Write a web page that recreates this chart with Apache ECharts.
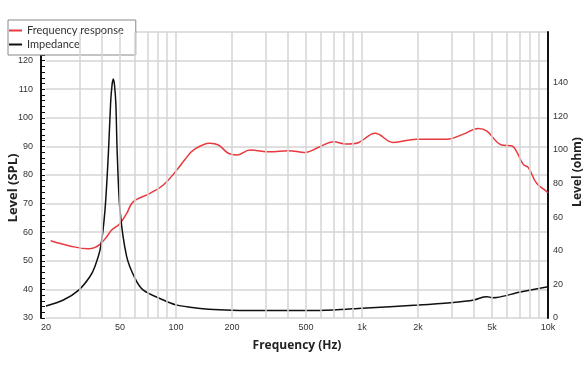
<!DOCTYPE html>
<html>
<head>
<meta charset="utf-8">
<script src="https://cdn.jsdelivr.net/npm/echarts@6/dist/echarts.min.js"></script>
<style>html,body{margin:0;padding:0;background:#fff}#c{width:588px;height:372px}</style>
</head>
<body>
<div id="c"></div>
<script>
// Frequency response (SPL, left axis)
var splFreq = [21.2, 26.9, 33.8, 36.5, 39.3, 42.5, 45.1, 49.7, 54.3, 59, 72.5, 85.5, 100.9, 112, 124, 152, 169, 191, 212, 250, 320, 402, 493, 594, 701, 828, 955, 1175, 1473, 1968, 2853, 3506, 4221, 4680, 5637, 6380, 6790, 7365, 7838, 8690, 9840, 10000];
var splValues = [57.0, 55.2, 54.2, 54.6, 55.9, 58.5, 60.8, 62.9, 66.6, 70.7, 73.6, 76.5, 81.7, 85.5, 88.7, 91.1, 90.5, 87.6, 87.0, 88.7, 88.1, 88.5, 87.9, 89.9, 91.6, 90.8, 91.3, 94.6, 91.4, 92.5, 92.5, 94.3, 96.3, 95.4, 90.5, 90.2, 88.1, 83.7, 82.6, 77.1, 74.2, 73.8];
// Impedance (ohm, right axis)
var impFreq = [20, 24.8, 30, 34.4, 36.6, 39.3, 41.5, 43.3, 44.5, 45.3, 46, 46.7, 47.5, 48.3, 50, 54.3, 60.2, 66.7, 85.5, 100, 119, 150, 200, 300, 500, 700, 1000, 2000, 3000, 4000, 4500, 4700, 5000, 5300, 7000, 10000];
var impValues = [7.1, 10.7, 16.6, 24.5, 30.5, 42, 64, 98, 127.6, 138.5, 142, 138.5, 127, 98, 64, 36.5, 23.6, 16.6, 10.7, 7.8, 6.4, 5.2, 4.6, 4.4, 4.4, 4.8, 5.8, 7.7, 9.1, 10.7, 12.5, 12.7, 12.1, 12.2, 15.3, 18.6];
// Axis ticks
var xTickFreqs = [20, 50, 100, 200, 500, 1000, 2000, 5000, 10000];
var xTickLabels = ['20', '50', '100', '200', '500', '1k', '2k', '5k', '10k'];
var xGridFreqs = [30, 40, 50, 60, 70, 80, 90, 100, 200, 300, 400, 500, 600, 700, 800, 900, 1000, 2000, 3000, 4000, 5000, 6000, 7000, 8000, 9000];

function lg(f){ return Math.log10(f); }
function pairs(fs, vs){ return fs.map(function(f,i){ return [lg(f), vs[i]]; }); }

var labelMap = {};
xTickFreqs.forEach(function(f,i){ labelMap[lg(f).toFixed(4)] = xTickLabels[i]; });

var chart = echarts.init(document.getElementById('c'), null, {renderer:'canvas'});
chart.setOption({
  animation: false,
  backgroundColor: '#fff',
  grid: {left: 46, right: 40, top: 32, bottom: 54, containLabel: false, outerBoundsMode: 'none'},
  legend: {
    left: 8, top: 20, orient: 'vertical',
    backgroundColor: '#fff', borderColor: '#888', borderWidth: 1,
    padding: [4, 12, 4, 1], itemGap: 1, itemWidth: 13, itemHeight: 2,
    textStyle: {fontFamily: 'Lato', fontSize: 11, color: '#333', lineHeight: 13},
    data: [
      {name: 'Frequency response', icon: 'rect'},
      {name: 'Impedance', icon: 'rect'}
    ]
  },
  xAxis: {
    type: 'value', min: lg(20), max: 4,
    name: 'Frequency (Hz)', nameLocation: 'middle', nameGap: 22,
    nameTextStyle: {fontFamily: 'Open Sans', fontWeight: 'bold', fontSize: 12, color: '#222'},
    axisLine: {show: false},
    axisTick: {show: false},
    splitLine: {show: false},
    axisLabel: {
      customValues: xTickFreqs.map(lg),
      fontFamily: 'Liberation Sans', fontSize: 9, color: '#333', margin: 5,
      formatter: function(v){ return labelMap[v.toFixed(4)] || ''; }
    }
  },
  yAxis: [
    {
      type: 'value', min: 30, max: 130, interval: 10, offset: 5,
      name: 'Level (SPL)', nameLocation: 'middle', nameGap: 21, nameMoveOverlap: false,
      nameTextStyle: {fontFamily: 'Open Sans', fontWeight: 'bold', fontSize: 13, color: '#222', padding: [0, 26, 0, 0]},
      axisLine: {show: true, lineStyle: {color: '#111', width: 2}},
      axisTick: {show: true, inside: true, length: 4, lineStyle: {color: '#111', width: 1}},
      minorTick: {show: true, splitNumber: 5, length: 4, lineStyle: {color: '#111', width: 1}},
      splitLine: {show: true, lineStyle: {color: '#d4d4d4', width: 1.5}},
      axisLabel: {fontFamily: 'Liberation Sans', fontSize: 9, color: '#333', margin: 8,
        formatter: function(v){ return v > 120 ? '' : v; }}
    },
    {
      type: 'value', min: 0, max: 170, interval: 20,
      name: 'Level (ohm)', nameLocation: 'middle', nameGap: 24, nameMoveOverlap: false,
      nameTextStyle: {fontFamily: 'Open Sans', fontWeight: 'bold', fontSize: 12, color: '#222', padding: [0, 0, 0, 6]},
      axisLine: {show: true, lineStyle: {color: '#111', width: 2}},
      axisTick: {show: false},
      splitLine: {show: false},
      axisLabel: {fontFamily: 'Liberation Sans', fontSize: 9, color: '#333', margin: 5,
        formatter: function(v){ return v > 140 ? '' : v; }}
    }
  ],
  series: [
    {
      name: 'grid', type: 'line', data: [], z: 1, silent: true,
      markLine: {
        silent: true, symbol: 'none', label: {show: false}, animation: false,
        lineStyle: {color: '#d4d4d4', width: 1.5, type: 'solid'},
        data: xGridFreqs.map(function(f){ return {xAxis: lg(f)}; })
      }
    },
    {
      name: 'Frequency response', type: 'line', yAxisIndex: 0, z: 3,
      data: pairs(splFreq, splValues), smooth: 0.4, showSymbol: false,
      lineStyle: {color: '#e8393f', width: 1.5}, itemStyle: {color: '#e8393f'}
    },
    {
      name: 'Impedance', type: 'line', yAxisIndex: 1, z: 4,
      data: pairs(impFreq, impValues), smooth: 0.3, showSymbol: false,
      lineStyle: {color: '#111', width: 1.5}, itemStyle: {color: '#111'}
    }
  ]
});
</script>
</body>
</html>
